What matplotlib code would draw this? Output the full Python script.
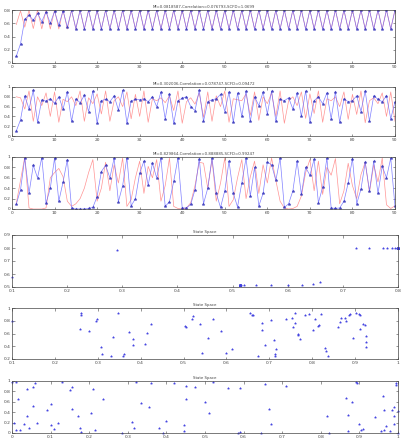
import matplotlib
matplotlib.use("Agg")
import matplotlib.pyplot as plt

steps = list(range(1, 91))

titles = [
    "MI=0.0818587,Correlation=0.076793,SCFD=1.0699",
    "MI=0.302006,Correlation=0.078747,SCFD=0.09472",
    "MI=0.829864,Correlation=0.888885,SCFD=0.99247",
]
state_title = "State Space"

# ---- series 1 (period-2 synchronisation) ----
s1_x = [0.10, 0.29, 0.658, 0.724, 0.645, 0.748, 0.626, 0.772, 0.600, 0.780,
        0.570, 0.790, 0.542, 0.795, 0.520, 0.799, 0.515, 0.800, 0.513, 0.800,
        0.513, 0.800, 0.513, 0.800, 0.513, 0.800, 0.513, 0.800, 0.513, 0.800,
        0.513, 0.800, 0.513, 0.800, 0.513, 0.800, 0.513, 0.800, 0.513, 0.800,
        0.513, 0.800, 0.513, 0.800, 0.513, 0.800, 0.513, 0.800, 0.513, 0.800,
        0.513, 0.800, 0.513, 0.800, 0.513, 0.800, 0.513, 0.800, 0.513, 0.800,
        0.513, 0.800, 0.513, 0.800, 0.513, 0.800, 0.513, 0.800, 0.513, 0.800,
        0.513, 0.800, 0.513, 0.800, 0.513, 0.800, 0.513, 0.800, 0.513, 0.800,
        0.513, 0.800, 0.513, 0.800, 0.513, 0.800, 0.513, 0.800, 0.513, 0.800]
s1_y = [0.58, 0.787, 0.540, 0.797, 0.520, 0.799, 0.515, 0.800, 0.513, 0.800,
        0.513, 0.800, 0.513, 0.800, 0.513, 0.800, 0.513, 0.800, 0.513, 0.800,
        0.513, 0.800, 0.513, 0.800, 0.513, 0.800, 0.513, 0.800, 0.513, 0.800,
        0.513, 0.800, 0.513, 0.800, 0.513, 0.800, 0.513, 0.800, 0.513, 0.800,
        0.513, 0.800, 0.513, 0.800, 0.513, 0.800, 0.513, 0.800, 0.513, 0.800,
        0.513, 0.800, 0.513, 0.800, 0.513, 0.800, 0.513, 0.800, 0.513, 0.800,
        0.513, 0.800, 0.513, 0.800, 0.513, 0.800, 0.513, 0.800, 0.513, 0.800,
        0.513, 0.800, 0.513, 0.800, 0.513, 0.800, 0.513, 0.800, 0.513, 0.800,
        0.513, 0.800, 0.513, 0.800, 0.513, 0.800, 0.513, 0.800, 0.513, 0.800]

# ---- series 2 ----
s2_x = [0.10, 0.33, 0.82, 0.55, 0.93, 0.28, 0.74, 0.71, 0.76, 0.67,
        0.80, 0.55, 0.90, 0.30, 0.76, 0.68, 0.83, 0.50, 0.92, 0.26,
        0.72, 0.75, 0.70, 0.82, 0.53, 0.93, 0.26, 0.71, 0.75, 0.74,
        0.76, 0.70, 0.80, 0.60, 0.90, 0.35, 0.85, 0.26, 0.72, 0.77,
        0.80, 0.60, 0.52, 0.93, 0.30, 0.70, 0.74, 0.76, 0.85, 0.50,
        0.90, 0.28, 0.88, 0.40, 0.92, 0.30, 0.80, 0.62, 0.90, 0.45,
        0.92, 0.30, 0.75, 0.72, 0.78, 0.55, 0.88, 0.40, 0.92, 0.28,
        0.72, 0.80, 0.66, 0.88, 0.35, 0.90, 0.28, 0.76, 0.70, 0.72,
        0.82, 0.50, 0.92, 0.30, 0.82, 0.75, 0.70, 0.82, 0.35, 0.70]
s2_y = [0.80, 0.78, 0.55, 0.92, 0.30, 0.80, 0.62, 0.88, 0.40, 0.90,
        0.28, 0.75, 0.70, 0.80, 0.62, 0.92, 0.30, 0.78, 0.66, 0.86,
        0.45, 0.92, 0.30, 0.72, 0.80, 0.60, 0.90, 0.35, 0.85, 0.40,
        0.92, 0.28, 0.76, 0.72, 0.78, 0.68, 0.82, 0.52, 0.92, 0.26,
        0.70, 0.78, 0.65, 0.88, 0.38, 0.90, 0.30, 0.82, 0.60, 0.92,
        0.28, 0.76, 0.74, 0.72, 0.86, 0.42, 0.90, 0.32, 0.80, 0.66,
        0.88, 0.40, 0.92, 0.26, 0.72, 0.80, 0.62, 0.90, 0.36, 0.86,
        0.46, 0.92, 0.28, 0.76, 0.72, 0.80, 0.60, 0.90, 0.34, 0.85,
        0.44, 0.92, 0.27, 0.72, 0.78, 0.66, 0.88, 0.40, 0.90, 0.30]

# ---- series 3 ----
s3_x = [0.09, 0.37, 0.98, 0.30, 0.84, 0.60, 0.99, 0.11, 0.40, 0.98,
        0.15, 0.52, 0.95, 0.01, 0.00, 0.00, 0.00, 0.01, 0.03, 0.24,
        0.72, 0.84, 0.60, 0.98, 0.14, 0.45, 0.99, 0.06, 0.20, 0.69,
        0.92, 0.46, 0.88, 0.60, 0.98, 0.05, 0.14, 0.53, 0.98, 0.02,
        0.02, 0.09, 0.37, 0.97, 0.10, 0.40, 0.98, 0.30, 0.03, 0.35,
        0.92, 0.30, 0.04, 0.50, 0.98, 0.25, 0.80, 0.06, 0.30, 0.90,
        0.85, 0.55, 0.98, 0.03, 0.10, 0.35, 0.92, 0.28, 0.80, 0.65,
        0.96, 0.12, 0.42, 0.98, 0.02, 0.01, 0.02, 0.15, 0.50, 0.97,
        0.10, 0.38, 0.90, 0.35, 0.92, 0.30, 0.82, 0.60, 0.98, 0.05]
s3_y = [0.10, 0.55, 1.00, 0.02, 0.00, 0.00, 0.00, 0.02, 0.60, 0.70,
        0.78, 0.62, 0.15, 0.05, 0.10, 0.20, 0.40, 0.70, 0.95, 0.15,
        0.40, 0.90, 0.35, 0.85, 0.50, 0.98, 0.05, 0.18, 0.60, 0.92,
        0.30, 0.82, 0.60, 0.95, 0.15, 0.45, 0.98, 0.05, 0.01, 0.00,
        0.02, 0.12, 0.45, 0.90, 0.88, 0.40, 0.95, 0.15, 0.50, 0.98,
        0.05, 0.18, 0.60, 0.95, 0.20, 0.62, 0.92, 0.30, 0.85, 0.50,
        0.98, 0.55, 0.15, 0.02, 0.00, 0.01, 0.05, 0.25, 0.70, 0.95,
        0.35, 0.92, 0.28, 0.80, 0.65, 0.97, 0.10, 0.35, 0.88, 0.45,
        0.20, 0.66, 0.90, 0.32, 0.85, 0.52, 0.98, 0.08, 0.01, 0.06]

# ---- state-space points ----
ss1_x = s1_x
ss1_y = s1_y

ss2_x = [0.100, 0.261, 0.262, 0.258, 0.279, 0.297, 0.299, 0.307, 0.311, 0.330,
         0.336, 0.348, 0.359, 0.362, 0.373, 0.381, 0.381, 0.410, 0.414, 0.423,
         0.505, 0.503, 0.519, 0.522, 0.538, 0.542, 0.557, 0.569, 0.588, 0.598,
         0.612, 0.654, 0.660, 0.662, 0.674, 0.682, 0.683, 0.689, 0.705, 0.710,
         0.713, 0.714, 0.715, 0.740, 0.752, 0.755, 0.761, 0.759, 0.767, 0.767,
         0.771, 0.783, 0.793, 0.802, 0.806, 0.814, 0.816, 0.821, 0.829, 0.831,
         0.837, 0.860, 0.864, 0.866, 0.876, 0.878, 0.886, 0.889, 0.894, 0.901,
         0.909, 0.911, 0.912, 0.918, 0.922, 0.926, 0.925, 0.926]
ss2_y = [0.800, 0.927, 0.896, 0.678, 0.647, 0.792, 0.823, 0.387, 0.273, 0.247,
         0.548, 0.927, 0.247, 0.283, 0.621, 0.507, 0.423, 0.429, 0.605, 0.751,
         0.709, 0.712, 0.829, 0.875, 0.756, 0.288, 0.522, 0.823, 0.647, 0.288,
         0.356, 0.927, 0.896, 0.886, 0.247, 0.657, 0.761, 0.423, 0.808, 0.491,
         0.283, 0.252, 0.356, 0.834, 0.844, 0.704, 0.927, 0.766, 0.590, 0.569,
         0.507, 0.896, 0.906, 0.662, 0.823, 0.719, 0.740, 0.912, 0.377, 0.325,
         0.247, 0.709, 0.782, 0.844, 0.844, 0.792, 0.896, 0.912, 0.522, 0.927,
         0.912, 0.886, 0.678, 0.751, 0.730, 0.553, 0.470, 0.392]

ss3_x = [0.000, 0.010, 0.005, 0.010, 0.015, 0.020, 0.030, 0.040, 0.040, 0.045,
         0.055, 0.055, 0.060, 0.065, 0.090, 0.100, 0.100, 0.110, 0.120, 0.130,
         0.150, 0.155, 0.155, 0.170, 0.175, 0.180, 0.205, 0.210, 0.215, 0.235,
         0.285, 0.310, 0.315, 0.320, 0.335, 0.355, 0.360, 0.380, 0.390, 0.400,
         0.420, 0.445, 0.445, 0.450, 0.450, 0.475, 0.500, 0.510, 0.520, 0.560,
         0.585, 0.590, 0.590, 0.645, 0.655, 0.665, 0.670, 0.710, 0.815, 0.820,
         0.865, 0.870, 0.870, 0.880, 0.890, 0.895, 0.900, 0.905, 0.910, 0.940,
         0.955, 0.960, 0.965, 0.965, 0.970, 0.980, 0.985, 0.990, 0.990, 0.990,
         0.995, 0.995, 1.000, 1.000]
ss3_y = [0.980, 0.980, 0.200, 0.050, 0.660, 0.060, 0.170, 0.850, 0.330, 0.090,
         0.520, 0.890, 0.970, 0.200, 0.450, 0.550, 0.150, 0.070, 0.200, 0.980,
         0.820, 0.880, 0.470, 0.320, 0.100, 0.010, 0.390, 0.850, 0.050, 0.650,
         0.000, 0.210, 0.100, 0.980, 0.570, 0.500, 0.970, 0.090, 0.000, 0.230,
         0.960, 0.040, 0.150, 0.900, 0.650, 0.880, 0.590, 0.380, 0.990, 0.870,
         0.000, 0.870, 0.010, 0.000, 0.950, 0.470, 0.180, 0.910, 0.320, 0.000,
         0.670, 0.350, 0.040, 0.590, 0.980, 0.960, 0.180, 0.050, 0.070, 0.300,
         0.040, 0.720, 0.450, 0.060, 0.130, 0.040, 0.450, 0.500, 0.320, 0.170,
         0.920, 0.960, 0.420, 0.000]

series = [(s1_x, s1_y), (s2_x, s2_y), (s3_x, s3_y)]
states = [(ss1_x, ss1_y), (ss2_x, ss2_y), (ss3_x, ss3_y)]
ts_ylims = [(0, 0.8), (0, 1), (0, 1)]
ts_yticks = [[0, 0.2, 0.4, 0.6, 0.8], [0, 0.2, 0.4, 0.6, 0.8, 1], [0, 0.2, 0.4, 0.6, 0.8, 1]]
ts_xticks = [0, 10, 20, 30, 40, 50, 60, 70, 80, 90]

ss_xlims = [(0.1, 0.8), (0.1, 1.0), (0.0, 1.0)]
ss_ylims = [(0.5, 0.9), (0.2, 1.0), (0.0, 1.0)]
ss_xticks = [[0.1, 0.2, 0.3, 0.4, 0.5, 0.6, 0.7, 0.8],
             [0.1, 0.2, 0.3, 0.4, 0.5, 0.6, 0.7, 0.8, 0.9, 1.0],
             [0, 0.1, 0.2, 0.3, 0.4, 0.5, 0.6, 0.7, 0.8, 0.9, 1.0]]
ss_yticks = [[0.5, 0.6, 0.7, 0.8, 0.9], [0.2, 0.4, 0.6, 0.8, 1.0],
             [0, 0.2, 0.4, 0.6, 0.8, 1.0]]

W, H = 403, 443
fig = plt.figure(figsize=(W / 100, H / 100), dpi=100)
fig.patch.set_facecolor("white")


def fmt(v):
    s = ("%.1f" % v).rstrip("0").rstrip(".")
    return s if s else "0"


def style(ax, xt, yt):
    ax.set_xticks(xt)
    ax.set_yticks(yt)
    ax.set_xticklabels([fmt(v) for v in xt])
    ax.set_yticklabels([fmt(v) for v in yt])
    ax.tick_params(direction="in", length=1.8, width=0.4, labelsize=3.2,
                   pad=1.2, top=True, right=True, colors="#444444")
    for sp in ax.spines.values():
        sp.set_linewidth(0.5)
        sp.set_color("#444444")


def px_axes(left, top, right, bottom):
    return fig.add_axes([left / W, 1 - bottom / H, (right - left) / W, (bottom - top) / H])


ts_boxes = [(12, 10, 395, 63), (12, 87, 395, 136), (12, 157, 395, 209)]
ss_boxes = [(12, 235, 398, 287), (12, 308, 398, 359), (12, 381, 398, 433)]

for i, ((bx, by), box) in enumerate(zip(series, ts_boxes)):
    ax = px_axes(*box)
    ax.plot(steps, by, color="#ff7070", lw=0.5, alpha=0.75)
    ax.plot(steps, bx, color="#6a6aff", lw=0.5, alpha=0.85, marker="*",
            ms=2.2, mfc="#3030b8", mec="#3030b8", mew=0.3)
    ax.set_xlim(0, 90)
    ax.set_ylim(*ts_ylims[i])
    style(ax, ts_xticks, ts_yticks[i])
    ax.set_title(titles[i], fontsize=2.8, pad=1.5, color="#444444")

for i, ((sx, sy), box) in enumerate(zip(states, ss_boxes)):
    ax = px_axes(*box)
    ax.plot(sx, sy, linestyle="none", marker="*", ms=1.6, color="#4040e0",
            mew=0.3, clip_on=False)
    ax.set_xlim(*ss_xlims[i])
    ax.set_ylim(*ss_ylims[i])
    style(ax, ss_xticks[i], ss_yticks[i])
    ax.set_title(state_title, fontsize=2.8, pad=1.5, color="#444444")

fig.savefig("out.png", dpi=100, facecolor="white")
